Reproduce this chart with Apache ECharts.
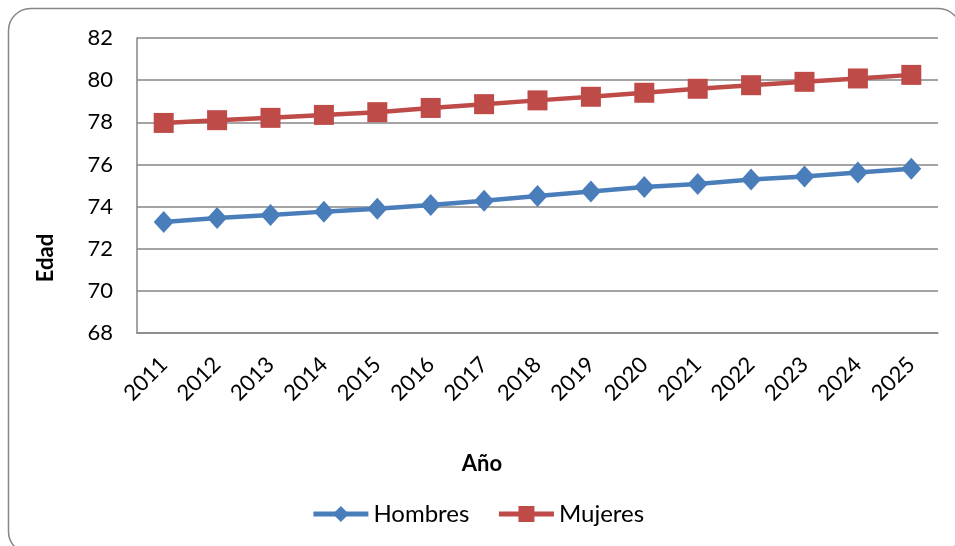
<!DOCTYPE html>
<html>
<head>
<meta charset="utf-8">
<script src="https://cdn.jsdelivr.net/npm/echarts@6/dist/echarts.min.js"></script>
<style>
  html, body { margin: 0; padding: 0; background: #fff; }
  #chart { width: 955px; height: 546px; }
</style>
</head>
<body>
<div id="chart"></div>
<script>
// Esperanza de vida al nacer por sexo, 2011-2025
const years = ['2011','2012','2013','2014','2015','2016','2017','2018','2019','2020','2021','2022','2023','2024','2025'];
const hombres = [73.27, 73.46, 73.60, 73.76, 73.90, 74.08, 74.28, 74.50, 74.72, 74.93, 75.07, 75.28, 75.43, 75.62, 75.80];
const mujeres = [77.97, 78.10, 78.21, 78.35, 78.48, 78.68, 78.86, 79.04, 79.21, 79.40, 79.59, 79.76, 79.92, 80.08, 80.25];
const yTicks = { min: 68, max: 82, step: 2 };

const FONT = 'Lato, "Open Sans", sans-serif';
const chart = echarts.init(document.getElementById('chart'));

chart.setOption({
  animation: false,
  backgroundColor: '#ffffff',
  grid: { left: 137, right: 17, top: 38, bottom: 213, containLabel: false },
  graphic: [
    {
      type: 'rect',
      shape: { x: 8.5, y: 8.5, width: 952, height: 545, r: 22 },
      style: { fill: 'none', stroke: '#868686', lineWidth: 1.5 },
      silent: true, z: -1
    },
    {
      type: 'text',
      x: 46, y: 258, rotation: Math.PI / 2,
      style: { text: 'Edad', font: 'bold 22px ' + FONT, fill: '#000', align: 'center', verticalAlign: 'middle' }
    },
    {
      type: 'text',
      x: 482, y: 464,
      style: { text: 'Año', font: 'bold 22px ' + FONT, fill: '#000', align: 'center', verticalAlign: 'middle' }
    }
  ],
  legend: {
    top: 497, left: 'center',
    itemWidth: 55, itemHeight: 20, itemGap: 27,
    lineStyle: { width: 5 },
    textStyle: { fontFamily: FONT, fontSize: 24, color: '#000' },
    data: ['Hombres', 'Mujeres']
  },
  xAxis: {
    type: 'category',
    data: years,
    boundaryGap: true,
    axisLine: { lineStyle: { color: '#868686', width: 1.5 } },
    axisTick: { show: false },
    axisLabel: { rotate: 45, margin: 28, fontFamily: FONT, fontSize: 22, color: '#000', interval: 0 }
  },
  yAxis: {
    type: 'value',
    min: yTicks.min, max: yTicks.max, interval: yTicks.step,
    axisLine: { show: true, lineStyle: { color: '#868686', width: 1.5 } },
    axisTick: { show: false },
    splitLine: { lineStyle: { color: '#868686', width: 1.5 } },
    axisLabel: { margin: 24, fontFamily: FONT, fontSize: 22, color: '#000' }
  },
  series: [
    {
      name: 'Hombres', type: 'line', data: hombres,
      symbol: 'diamond', symbolSize: [20, 22],
      lineStyle: { color: '#4A7EBB', width: 4.5 },
      itemStyle: { color: '#4A7EBB' }
    },
    {
      name: 'Mujeres', type: 'line', data: mujeres,
      symbol: 'rect', symbolSize: 20,
      lineStyle: { color: '#BE4B48', width: 4.5 },
      itemStyle: { color: '#BE4B48' }
    }
  ]
});
</script>
</body>
</html>
